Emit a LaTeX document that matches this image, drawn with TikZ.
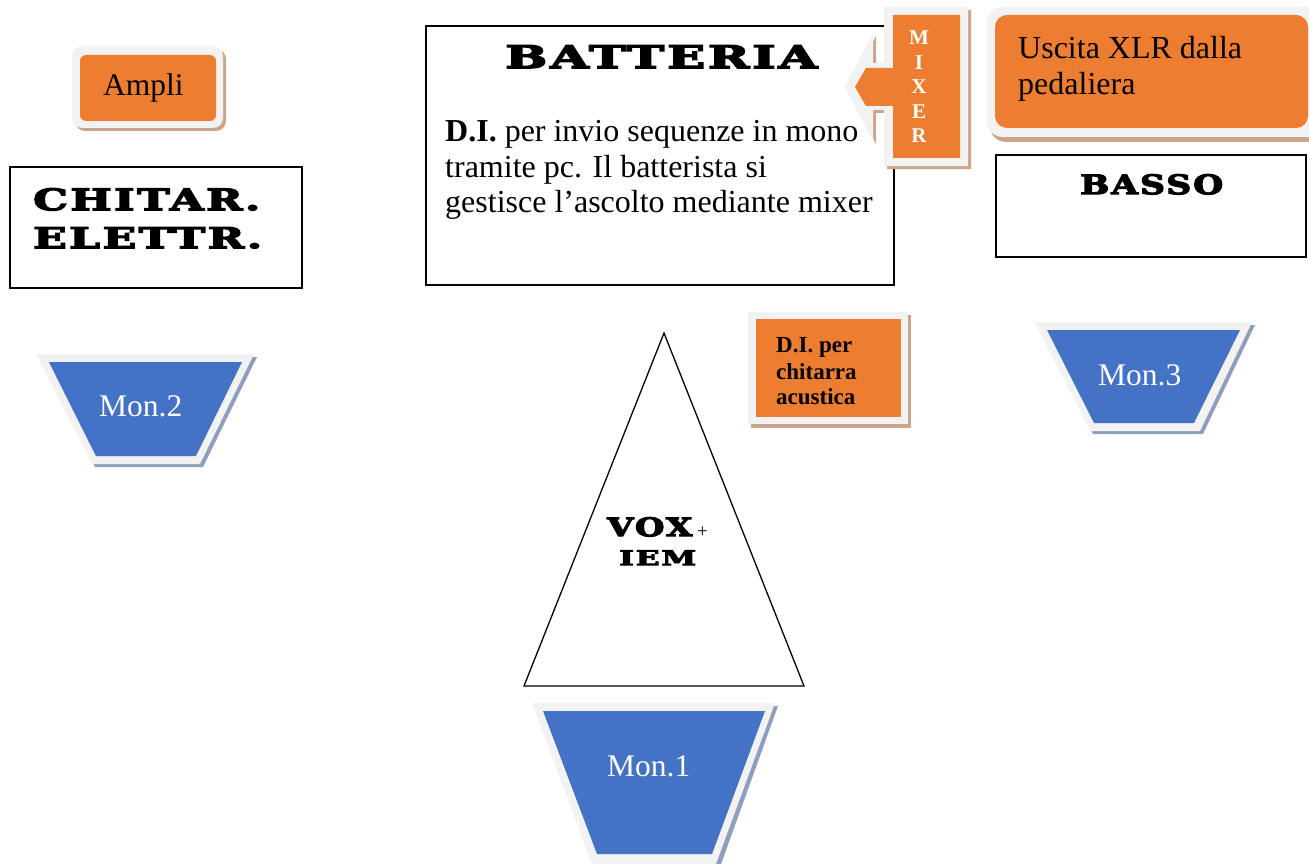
\documentclass[tikz,border=0pt]{standalone}
\usepackage{fontspec}
\usepackage{graphicx}
\setmainfont{Liberation Serif}
\newfontfamily\decofont{DejaVu Serif}[LetterSpace=6, FakeBold=4]
\definecolor{frameg}{HTML}{F2F2F2}
\definecolor{orng}{HTML}{ED7D31}
\definecolor{blu}{HTML}{4472C4}
\definecolor{brsh}{HTML}{C9A68B}
\definecolor{blsh}{HTML}{8E9FBC}
\newcommand{\deco}[3]{\resizebox{#1pt}{#2pt}{\decofont\bfseries #3}}
\tikzset{
  txt/.style={inner sep=0pt, font=\fontsize{31.5}{36}\selectfont},
  boxline/.style={draw=black, line width=1.4pt},
  dtxt/.style={inner sep=0pt, anchor=north west},
}
\begin{document}
\begin{tikzpicture}[x=1pt,y=-1pt]
\useasboundingbox (0,0) rectangle (1309,864);

% ---------- Ampli ----------
\fill[brsh, rounded corners=10pt] (75,49) rectangle (226,131);
\fill[frameg, rounded corners=10pt] (72,46) rectangle (223,128);
\fill[orng, rounded corners=6pt] (80,55) rectangle (216,121);
\node[txt, anchor=base west] (ampli) at (103,96) {Ampli};

% ---------- Chitarra elettrica ----------
\draw[boxline] (10,167) rectangle (302,288);
\node[dtxt] (chit1) at (33,188) {\deco{227}{22}{CHITAR.}};
\node[dtxt] (chit2) at (33,227) {\deco{229}{21}{ELETTR.}};

% ---------- Mon.2 ----------
\fill[blsh] (39,357) -- (257,357) -- (203,467) -- (95,467) -- cycle;
\fill[frameg] (36,354) -- (254,354) -- (200,464) -- (92,464) -- cycle;
\fill[blu] (49,362) -- (242,362) -- (196,456) -- (96,456) -- cycle;
\node[txt, anchor=base west, text=white] (mon2) at (99,416) {Mon.2};

% ---------- Batteria ----------
\draw[boxline] (426,26) rectangle (894,285);
\node[dtxt] (batt) at (505,45) {\deco{312}{23}{BATTERIA}};
\node[txt, anchor=base west, font=\fontsize{32}{36}\selectfont] (bat1) at (445,142) {\textbf{D.I.} per invio sequenze in mono};
\node[txt, anchor=base west, font=\fontsize{32}{36}\selectfont] (bat2) at (445,177) {tramite pc. Il batterista si};
\node[txt, anchor=base west, font=\fontsize{32}{36}\selectfont] (bat3) at (445,212) {gestisce l’ascolto mediante mixer};

% ---------- MIXER callout ----------
\fill[brsh] (887,10) -- (971,10) -- (971,169) -- (887,169) -- (887,113) -- (876,113)
  -- (876,144) -- (848,90) -- (876,36) -- (876,66) -- (887,66) -- cycle;
\fill[frameg] (884,7) -- (968,7) -- (968,166) -- (884,166) -- (884,110) -- (873,110)
  -- (873,141) -- (845,87) -- (873,33) -- (873,63) -- (884,63) -- cycle;
\fill[orng] (893,15) -- (960,15) -- (960,158) -- (893,158) -- (893,106) -- (866,106)
  -- (855,87) -- (866,68) -- (893,68) -- cycle;
\node[inner sep=0pt, anchor=north, align=center, text=white,
  font=\fontsize{21}{24.5}\selectfont\bfseries] (mixer) at (919,31) {M\\I\\X\\E\\R};

% ---------- Uscita XLR ----------
\fill[brsh, rounded corners=16pt] (990,12) rectangle (1330,142);
\fill[frameg, rounded corners=16pt] (987,7) rectangle (1330,137);
\fill[orng, rounded corners=12pt] (995,15) rectangle (1308,128);
\node[txt, anchor=base west, font=\fontsize{32}{36}\selectfont] (usc1) at (1018,59) {Uscita XLR dalla};
\node[txt, anchor=base west, font=\fontsize{32}{36}\selectfont] (usc2) at (1018,95) {pedaliera};

% ---------- Basso ----------
\draw[boxline] (996,155) rectangle (1306,257);
\node[dtxt] (basso) at (1080,174) {\deco{143}{20}{BASSO}};

% ---------- D.I. chitarra acustica ----------
\fill[brsh] (751,315) rectangle (911,428);
\fill[frameg] (748,312) rectangle (908,424);
\fill[orng] (756,319) rectangle (901,417);
\node[inner sep=0pt, anchor=base west, font=\fontsize{23}{27}\selectfont\bfseries] (di1) at (776,352) {D.I. per};
\node[inner sep=0pt, anchor=base west, font=\fontsize{23}{27}\selectfont\bfseries] (di2) at (776,379) {chitarra};
\node[inner sep=0pt, anchor=base west, font=\fontsize{23}{27}\selectfont\bfseries] (di3) at (776,404) {acustica};

% ---------- Mon.3 ----------
\fill[blsh] (1038,325) -- (1255,325) -- (1203,434) -- (1093,434) -- cycle;
\fill[frameg] (1035,322) -- (1252,322) -- (1200,431) -- (1090,431) -- cycle;
\fill[blu] (1047,330) -- (1240,330) -- (1194,423) -- (1094,423) -- cycle;
\node[txt, anchor=base west, text=white] (mon3) at (1098,385) {Mon.3};

% ---------- Vox triangle ----------
\draw[line width=1.3pt, line join=miter] (664,333) -- (804,686) -- (524,686) -- cycle;
\node[dtxt] (vox) at (607,517) {\deco{85}{19}{VOX}};
\node[inner sep=0pt, anchor=base west, font=\fontsize{19}{20}\selectfont] (plus) at (697,537) {+};
\node[dtxt] (iem) at (619,550) {\deco{77}{15}{IEM}};

% ---------- Mon.1 ----------
\fill[blsh] (535,706) -- (778,706) -- (720,867) -- (595,867) -- cycle;
\fill[frameg] (532,703) -- (775,703) -- (716,864) -- (592,864) -- cycle;
\fill[blu] (543,711) -- (765,711) -- (712,854) -- (597,854) -- cycle;
\node[txt, anchor=base west, text=white] (mon1) at (607,776) {Mon.1};
\end{tikzpicture}
\end{document}
